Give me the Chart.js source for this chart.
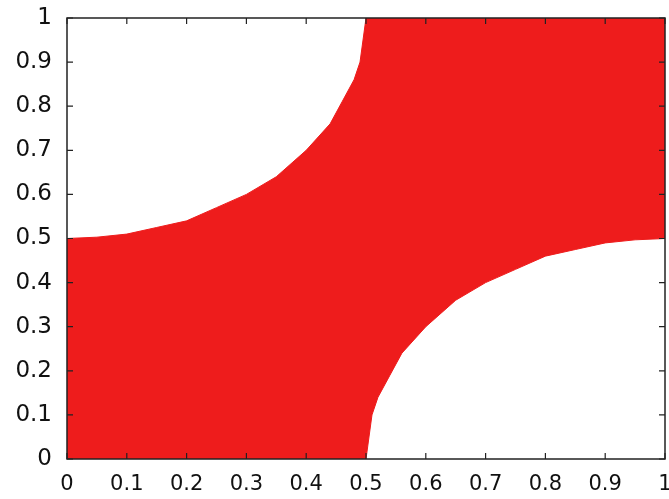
<!DOCTYPE html>
<html>
<head>
<meta charset="utf-8">
<script src="https://cdn.jsdelivr.net/npm/chart.js@4/dist/chart.umd.min.js"></script>
<style>
html,body{margin:0;padding:0;background:#fff;}
#wrap{width:669px;height:499px;}
</style>
</head>
<body>
<div id="wrap"><canvas id="c" width="669" height="499"></canvas></div>
<script>
// Boundary of the filled point cloud
const lowerArcX = [0.5, 0.51, 0.52, 0.54, 0.56, 0.6, 0.65, 0.7, 0.75, 0.8, 0.85, 0.9, 0.95, 1.0];
const lowerArcY = [0.0, 0.10, 0.14, 0.19, 0.24, 0.30, 0.36, 0.40, 0.43, 0.46, 0.475, 0.49, 0.497, 0.5];
const upperArcX = [0.5, 0.49, 0.48, 0.46, 0.44, 0.4, 0.35, 0.3, 0.25, 0.2, 0.15, 0.1, 0.05, 0.0];
const upperArcY = [1.0, 0.90, 0.86, 0.81, 0.76, 0.70, 0.64, 0.60, 0.57, 0.54, 0.525, 0.51, 0.503, 0.5];
const xTicks = [0, 0.1, 0.2, 0.3, 0.4, 0.5, 0.6, 0.7, 0.8, 0.9, 1];
const yTicks = [0, 0.1, 0.2, 0.3, 0.4, 0.5, 0.6, 0.7, 0.8, 0.9, 1];

const region = [{x: 0, y: 0}];
lowerArcX.forEach((x, i) => region.push({x: x, y: lowerArcY[i]}));
region.push({x: 1, y: 1});
upperArcX.forEach((x, i) => region.push({x: x, y: upperArcY[i]}));
region.push({x: 0, y: 0});

const fmt = v => (Math.abs(v - 1) < 1e-9 ? '1' : (Math.abs(v) < 1e-9 ? '0' : v.toFixed(1)));

Chart.defaults.font.family = "'DejaVu Sans', sans-serif";
Chart.defaults.font.size = 23;
Chart.defaults.color = '#111';

const frame = {
  id: 'frame',
  afterDatasetsDraw(chart) {
    const {ctx, chartArea: a, scales: {x, y}} = chart;
    ctx.save();
    ctx.strokeStyle = '#222';
    ctx.lineWidth = 1.5;
    ctx.strokeRect(a.left, a.top, a.right - a.left, a.bottom - a.top);
    ctx.lineWidth = 1.2;
    const L = 6;
    ctx.beginPath();
    xTicks.forEach(v => {
      const p = x.getPixelForValue(v);
      ctx.moveTo(p, a.bottom); ctx.lineTo(p, a.bottom - L);
      ctx.moveTo(p, a.top); ctx.lineTo(p, a.top + L);
    });
    yTicks.forEach(v => {
      const p = y.getPixelForValue(v);
      ctx.moveTo(a.left, p); ctx.lineTo(a.left + L, p);
      ctx.moveTo(a.right, p); ctx.lineTo(a.right - L, p);
    });
    ctx.stroke();
    ctx.restore();
  }
};

new Chart(document.getElementById('c'), {
  type: 'scatter',
  data: {
    datasets: [{
      data: region,
      showLine: true,
      fill: 'shape',
      backgroundColor: 'rgb(238,28,28)',
      borderColor: 'rgb(238,28,28)',
      borderWidth: 1,
      pointRadius: 0,
      tension: 0
    }]
  },
  options: {
    responsive: false,
    animation: false,
    events: [],
    layout: {padding: {left: 0, right: 4, top: 18, bottom: 0}},
    plugins: {legend: {display: false}, tooltip: {enabled: false}},
    scales: {
      x: {
        type: 'linear', min: 0, max: 1,
        grid: {display: false, drawTicks: false},
        border: {display: false},
        afterBuildTicks: s => { s.ticks = xTicks.map(v => ({value: v})); },
        ticks: {
          callback: v => fmt(v),
          color: '#111', padding: 13, maxRotation: 0, minRotation: 0, autoSkip: false,
          font: {size: 21}
        },
        afterFit: s => { s.height = 40; s.paddingLeft = 0; s.paddingRight = 0; }
      },
      y: {
        type: 'linear', min: 0, max: 1,
        grid: {display: false, drawTicks: false},
        border: {display: false},
        afterBuildTicks: s => { s.ticks = yTicks.map(v => ({value: v})); },
        ticks: {
          callback: v => fmt(v),
          color: '#111', padding: 15, autoSkip: false,
          font: {size: 23}
        },
        afterFit: s => { s.width = 67; s.paddingTop = 0; s.paddingBottom = 0; }
      }
    }
  },
  plugins: [frame]
});
</script>
</body>
</html>
